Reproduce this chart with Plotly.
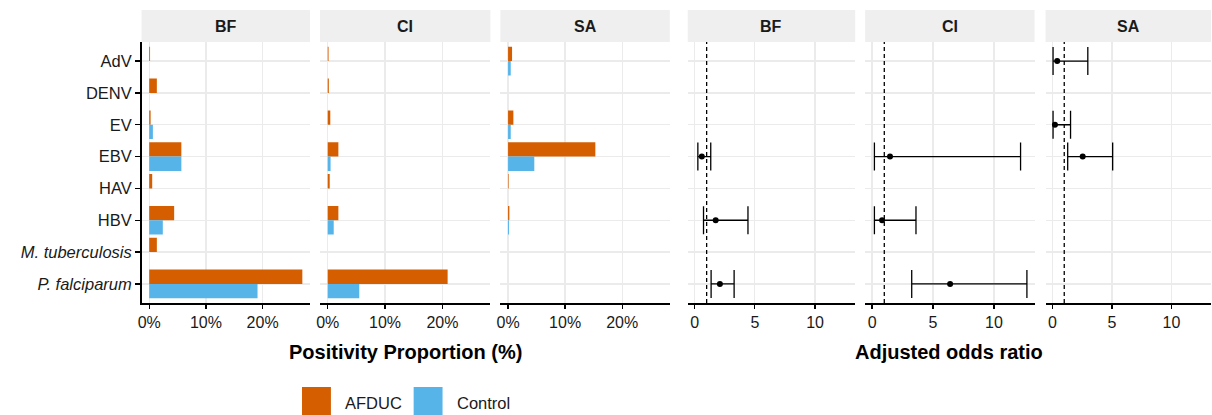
import plotly.graph_objects as go

# ---------------- data ----------------
categories = ["AdV", "DENV", "EV", "EBV", "HAV", "HBV", "M. tuberculosis", "P. falciparum"]
category_labels = ["AdV", "DENV", "EV", "EBV", "HAV", "HBV",
                   "<i>M. tuberculosis</i>", "<i>P. falciparum</i>"]
sites = ["BF", "CI", "SA"]

# positivity proportion (%)
afduc_bf = [0.15, 1.35, 0.25, 5.67, 0.53, 4.4, 1.35, 27.0]
control_bf = [0, 0, 0.65, 5.67, 0, 2.4, 0, 19.1]
afduc_ci = [0.15, 0.2, 0.45, 1.86, 0.35, 1.86, 0, 20.9]
control_ci = [0, 0, 0, 0.5, 0, 1.05, 0, 5.5]
afduc_sa = [0.7, 0, 0.93, 15.3, 0.1, 0.23, 0, 0]
control_sa = [0.47, 0, 0.47, 4.6, 0, 0.17, 0, 0]

# adjusted odds ratios (point, lower, upper)
or_bf_cat = ["EBV", "HBV", "P. falciparum"]
or_bf = [0.6, 1.75, 2.1]
or_bf_lo = [0.27, 0.74, 1.37]
or_bf_hi = [1.34, 4.43, 3.28]

or_ci_cat = ["EBV", "HBV", "P. falciparum"]
or_ci = [1.47, 0.82, 6.4]
or_ci_lo = [0.19, 0.19, 3.25]
or_ci_hi = [12.18, 3.6, 12.7]

or_sa_cat = ["AdV", "EV", "EBV"]
or_sa = [0.41, 0.22, 2.55]
or_sa_lo = [0.06, 0.06, 1.29]
or_sa_hi = [2.98, 1.53, 5.07]

pct_ticks = [0, 10, 20]
pct_ticktext = ["0%", "10%", "20%"]
or_ticks = [0, 5, 10]
or_ticktext = ["0", "5", "10"]
reference_or = 1

# ---------------- styling / layout ----------------
W, H = 1212, 415
FONT = "Liberation Sans, Arial, sans-serif"
C_AFDUC = "#D55E00"
C_CONTROL = "#56B4E9"
GRID = "#EBEBEB"
STRIP = "#EFEFEF"

panels_px = [(138, 307), (317, 488), (498, 668), (686, 854), (864, 1034), (1045, 1211)]
plot_top, plot_bot = 42, 303
strip_top = 10


def px_x(p):
    return p / W


def px_y(p):
    return 1 - p / H


fig = go.Figure()

bar_data = [(afduc_bf, control_bf), (afduc_ci, control_ci), (afduc_sa, control_sa)]
for i, (a, c) in enumerate(bar_data):
    ax = "" if i == 0 else str(i + 1)
    fig.add_trace(go.Bar(x=a, y=categories, orientation="h", name="AFDUC",
                         marker=dict(color=C_AFDUC, line=dict(width=0)),
                         xaxis="x" + ax, yaxis="y" + ax, showlegend=False,
                         offsetgroup="AFDUC"))
    fig.add_trace(go.Bar(x=c, y=categories, orientation="h", name="Control",
                         marker=dict(color=C_CONTROL, line=dict(width=0)),
                         xaxis="x" + ax, yaxis="y" + ax, showlegend=False,
                         offsetgroup="Control"))

or_data = [(or_bf_cat, or_bf, or_bf_lo, or_bf_hi),
           (or_ci_cat, or_ci, or_ci_lo, or_ci_hi),
           (or_sa_cat, or_sa, or_sa_lo, or_sa_hi)]
for j, (cats, pt, lo, hi) in enumerate(or_data):
    ax = str(j + 4)
    fig.add_trace(go.Scatter(
        x=pt, y=cats, mode="markers",
        marker=dict(color="black", size=6),
        error_x=dict(type="data", symmetric=False,
                     array=[h - p for h, p in zip(hi, pt)],
                     arrayminus=[p - l for p, l in zip(pt, lo)],
                     color="black", thickness=1.3, width=14),
        xaxis="x" + ax, yaxis="y" + ax, showlegend=False))

layout = dict(
    width=W, height=H,
    margin=dict(l=0, r=0, t=0, b=0),
    paper_bgcolor="white", plot_bgcolor="white",
    font=dict(family=FONT, color="black", size=16),
    barmode="group", bargap=0.1, bargroupgap=0,
    showlegend=False,
)

shapes = []
annotations = []
for k, (x0, x1) in enumerate(panels_px):
    n = "" if k == 0 else str(k + 1)
    is_pct = k < 3
    layout["xaxis" + n] = dict(
        domain=[px_x(x0), px_x(x1)], anchor="y" + n,
        range=[-1.35, 28.35] if is_pct else [-0.57, 13.33],
        tickvals=pct_ticks if is_pct else or_ticks,
        ticktext=pct_ticktext if is_pct else or_ticktext,
        showgrid=True, gridcolor=GRID, gridwidth=1.3, zeroline=False,
        showline=True, linecolor="black", linewidth=1.5,
        ticks="outside", ticklen=4, tickwidth=1.3, tickcolor="black",
        tickfont=dict(size=16, color="#1a1a1a"), fixedrange=True,
    )
    layout["yaxis" + n] = dict(
        domain=[px_y(plot_bot), px_y(plot_top)], anchor="x" + n,
        type="category", categoryorder="array", categoryarray=categories,
        range=[len(categories) - 0.4, -0.6],
        tickvals=categories, ticktext=category_labels,
        showticklabels=(k == 0),
        showgrid=True, gridcolor=GRID, gridwidth=1.3, zeroline=False,
        showline=(k == 0), linecolor="black", linewidth=1.5,
        ticks="outside" if k == 0 else "", ticklen=5, tickwidth=1.3, tickcolor="black",
        tickfont=dict(size=16.5, color="#1a1a1a"), fixedrange=True,
    )
    # facet strip
    shapes.append(dict(type="rect", xref="paper", yref="paper",
                       x0=px_x(x0), x1=px_x(x1), y0=px_y(plot_top), y1=px_y(strip_top),
                       fillcolor=STRIP, line=dict(width=0), layer="below"))
    annotations.append(dict(text="<b>%s</b>" % sites[k % 3], xref="paper", yref="paper",
                            x=px_x((x0 + x1) / 2), y=px_y((plot_top + strip_top) / 2),
                            showarrow=False, xanchor="center", yanchor="middle",
                            font=dict(size=16, color="#1a1a1a")))
    if not is_pct:
        shapes.append(dict(type="line", xref="x" + n, yref="paper",
                           x0=reference_or, x1=reference_or,
                           y0=px_y(plot_bot), y1=px_y(plot_top),
                           line=dict(color="black", width=1.3, dash="4px,3px")))

# axis titles
annotations.append(dict(text="<b>Positivity Proportion (%)</b>", xref="paper", yref="paper",
                        x=px_x((138 + 668) / 2), y=px_y(352), showarrow=False,
                        xanchor="center", yanchor="middle", font=dict(size=20)))
annotations.append(dict(text="<b>Adjusted odds ratio</b>", xref="paper", yref="paper",
                        x=px_x((686 + 1211) / 2), y=px_y(352), showarrow=False,
                        xanchor="center", yanchor="middle", font=dict(size=20)))

# legend (drawn)
legend_items = [("AFDUC", C_AFDUC, 299), ("Control", C_CONTROL, 411)]
for name, col, lx in legend_items:
    shapes.append(dict(type="rect", xref="paper", yref="paper",
                       x0=px_x(lx), x1=px_x(lx + 29), y0=px_y(415), y1=px_y(387),
                       fillcolor=col, line=dict(width=0)))
    annotations.append(dict(text=name, xref="paper", yref="paper",
                            x=px_x(lx + 41), y=px_y(403), showarrow=False,
                            xanchor="left", yanchor="middle",
                            font=dict(size=16.5, color="#1a1a1a")))

layout["shapes"] = shapes
layout["annotations"] = annotations
fig.update_layout(**layout)

fig.write_html("out.html",
               config={"displayModeBar": False, "staticPlot": True},
               post_script="document.body.style.margin='0px';"
                           "document.body.style.overflow='hidden';")
